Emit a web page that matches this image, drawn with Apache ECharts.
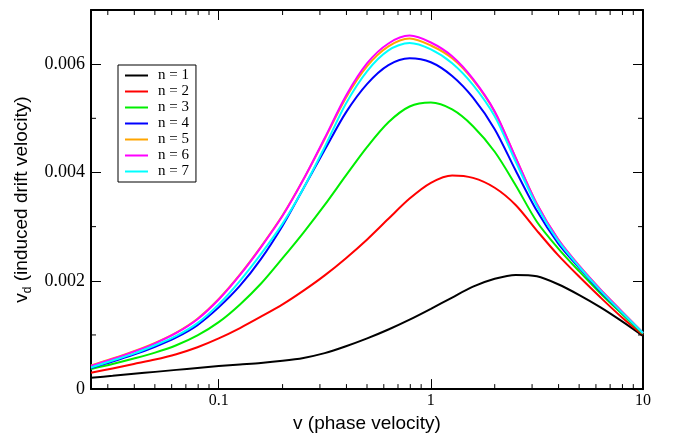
<!DOCTYPE html>
<html><head><meta charset="utf-8">
<script src="https://cdn.jsdelivr.net/npm/echarts@6/dist/echarts.min.js"></script>
<style>html,body{margin:0;padding:0;background:#fff}#c{width:674px;height:438px}</style>
</head><body><div id="c"></div>
<script>
// phase velocity samples (x), evenly spaced on the log axis
const phaseVelocity = [0.025,0.0316,0.0398,0.0501,0.0631,0.0794,0.1,0.126,0.158,0.2,0.251,0.316,0.398,0.501,0.631,0.794,1,1.26,1.58,2,2.51,3.16,3.98,5.01,6.31,7.94,10];
// induced drift velocity read for each n
const vdN1 = [0.000209,0.000245,0.000282,0.000318,0.000355,0.000391,0.000427,0.000455,0.000482,0.000522,0.000576,0.000664,0.000791,0.000936,0.0011,0.001282,0.001482,0.001691,0.001891,0.002036,0.002109,0.002082,0.001936,0.001736,0.001509,0.001255,0.000982];
const vdN2 = [0.0003,0.000382,0.000464,0.000545,0.000645,0.000773,0.000936,0.001127,0.001336,0.001564,0.001818,0.0021,0.002418,0.002764,0.003145,0.003518,0.003809,0.003945,0.0039,0.003718,0.0034,0.002927,0.002473,0.002073,0.001691,0.001327,0.001];
const vdN3 = [0.000373,0.000464,0.000564,0.000673,0.000809,0.000991,0.001236,0.001564,0.001945,0.002418,0.002891,0.0034,0.003945,0.004473,0.004927,0.005218,0.005291,0.005164,0.004855,0.004382,0.003764,0.003091,0.0026,0.002173,0.001764,0.001391,0.001018];
const vdN4 = [0.000391,0.000509,0.000636,0.000782,0.000955,0.001182,0.001509,0.001909,0.0024,0.003018,0.003709,0.004418,0.005109,0.005636,0.005982,0.006109,0.006036,0.005782,0.005382,0.0048,0.004036,0.003291,0.002691,0.002236,0.0018,0.001418,0.001036];
const vdN5 = [0.000436,0.000564,0.0007,0.000855,0.001045,0.0013,0.001664,0.002118,0.002627,0.003209,0.003873,0.004618,0.005382,0.005964,0.006327,0.006473,0.006345,0.006109,0.005709,0.005118,0.004273,0.003418,0.002764,0.002273,0.001836,0.001436,0.001036];
const vdN6 = [0.000427,0.000555,0.000691,0.000845,0.001036,0.001291,0.001655,0.002109,0.002618,0.0032,0.003873,0.004636,0.005418,0.006018,0.006382,0.006527,0.0064,0.006145,0.005727,0.005127,0.004273,0.003418,0.002764,0.002273,0.001836,0.001436,0.001036];
const vdN7 = [0.0004,0.000527,0.000655,0.000809,0.000982,0.001218,0.001564,0.002,0.002491,0.003055,0.003709,0.004473,0.005273,0.005873,0.006255,0.006391,0.006273,0.006018,0.005618,0.005036,0.0042,0.003382,0.002736,0.002255,0.001818,0.001418,0.001036];
const seriesNames = ['n = 1','n = 2','n = 3','n = 4','n = 5','n = 6','n = 7'];
const seriesColors = ['#000000','#ff0000','#00ee00','#0000ff','#ffa500','#ff00ff','#00ffff'];
const xMinorTicks = [0.03,0.04,0.05,0.06,0.07,0.08,0.09,0.2,0.3,0.4,0.5,0.6,0.7,0.8,0.9,2,3,4,5,6,7,8,9];
const yMinorTicks = [0.001,0.003,0.005];

const X_MIN = 0.025, X_MAX = 10, Y_MIN = 0, Y_MAX = 0.007;
const allValues = [vdN1,vdN2,vdN3,vdN4,vdN5,vdN6,vdN7];
const serif = 'Liberation Serif', sans = 'Liberation Sans';

const chart = echarts.init(document.getElementById('c'), null, {renderer:'canvas'});

const lineSeries = allValues.map((vals, i) => ({
  name: seriesNames[i],
  type: 'line',
  xAxisIndex: 0, yAxisIndex: 0,
  data: phaseVelocity.map((x, j) => [x, vals[j]]),
  symbol: 'none',
  smooth: 0.3,
  lineStyle: {color: seriesColors[i], width: 2},
  itemStyle: {color: seriesColors[i]},
  z: 3 + i
}));

const tickStyle = {stroke:'#000', lineWidth:1};
const xMinorSeries = {
  type: 'custom', xAxisIndex: 0, yAxisIndex: 0, silent: true, clip: false, z: 10,
  data: xMinorTicks.map(v => [v, Y_MIN]),
  renderItem: (params, api) => {
    const b = api.coord([api.value(0), Y_MIN]);
    const t = api.coord([api.value(0), Y_MAX]);
    return {type:'group', children:[
      {type:'line', shape:{x1:b[0], y1:b[1], x2:b[0], y2:b[1]-5}, style:tickStyle},
      {type:'line', shape:{x1:t[0], y1:t[1], x2:t[0], y2:t[1]+5}, style:tickStyle}
    ]};
  }
};
const yMinorSeries = {
  type: 'custom', xAxisIndex: 0, yAxisIndex: 0, silent: true, clip: false, z: 10,
  data: yMinorTicks.map(v => [X_MIN, v]),
  renderItem: (params, api) => {
    const l = api.coord([X_MIN, api.value(1)]);
    const r = api.coord([X_MAX, api.value(1)]);
    return {type:'group', children:[
      {type:'line', shape:{x1:l[0], y1:l[1], x2:l[0]+5, y2:l[1]}, style:tickStyle},
      {type:'line', shape:{x1:r[0], y1:r[1], x2:r[0]-5, y2:r[1]}, style:tickStyle}
    ]};
  }
};

const axisLine = {show:true, onZero:false, lineStyle:{color:'#000', width:2}};
const majorTick = {show:true, inside:true, length:10, lineStyle:{color:'#000', width:1}};

chart.setOption({
  animation: false,
  backgroundColor: '#fff',
  grid: {left: 91, right: 31, top: 10, bottom: 43, containLabel: false},
  legend: {
    orient: 'vertical', left: 118, top: 65,
    data: seriesNames.map(n => ({name: n, icon: 'rect'})),
    itemWidth: 23, itemHeight: 2, itemGap: 1,
    padding: [3, 7, 3, 7],
    borderColor: '#000', borderWidth: 1,
    backgroundColor: '#fff',
    textStyle: {fontFamily: serif, fontSize: 15, color: '#000', padding: [0,0,0,5]}
  },
  xAxis: [{
    type: 'log', logBase: 10, min: X_MIN, max: X_MAX, position: 'bottom',
    name: 'v (phase velocity)', nameLocation: 'middle', nameGap: 15,
    nameTextStyle: {fontFamily: sans, fontSize: 19, color: '#000'},
    axisLine, axisTick: majorTick, splitLine: {show:false},
    axisLabel: {fontFamily: serif, fontSize: 16, color: '#000', margin: 4, showMinLabel: false}
  }, {
    type: 'log', logBase: 10, min: X_MIN, max: X_MAX, position: 'top',
    axisLine, axisTick: majorTick, splitLine: {show:false}, axisLabel: {show:false}
  }],
  yAxis: [{
    type: 'value', min: Y_MIN, max: Y_MAX, interval: 0.002, position: 'left',
    name: '{a|v}{b|d}{a| (induced drift velocity)}', nameLocation: 'middle', nameGap: 39, nameRotate: 90,
    nameTextStyle: {fontFamily: sans, fontSize: 19, color: '#000',
      rich: {a: {fontFamily: sans, fontSize: 19, lineHeight: 23, color:'#000'},
             b: {fontFamily: sans, fontSize: 12, lineHeight: 10, verticalAlign: 'bottom', color:'#000'}}},
    axisLine, axisTick: majorTick, splitLine: {show:false},
    axisLabel: {fontFamily: serif, fontSize: 18, color: '#000', margin: 6, showMaxLabel: false}
  }, {
    type: 'value', min: Y_MIN, max: Y_MAX, interval: 0.002, position: 'right',
    axisLine, axisTick: majorTick, splitLine: {show:false}, axisLabel: {show:false}
  }],
  series: [...lineSeries, xMinorSeries, yMinorSeries]
});
</script>
</body></html>
